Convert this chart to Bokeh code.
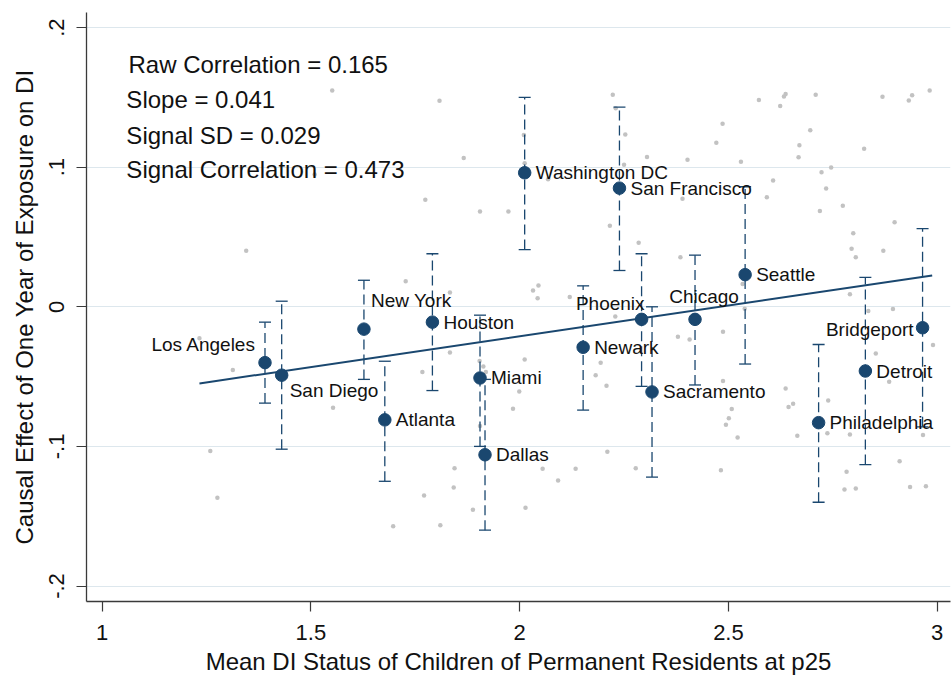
from bokeh.plotting import figure
from bokeh.models import Range1d, FixedTicker, ColumnDataSource, Label
from bokeh.embed import file_html
from bokeh.resources import INLINE
from bokeh.core.properties import value

# ---------------- data ----------------
cities = ["Los Angeles", "San Diego", "New York", "Houston", "Atlanta", "Miami",
          "Dallas", "Washington DC", "San Francisco", "Phoenix", "Newark",
          "Sacramento", "Chicago", "Seattle", "Bridgeport", "Detroit", "Philadelphia"]
mean_di = [1.390, 1.430, 1.627, 1.791, 1.677, 1.905, 1.917, 2.012, 2.239, 2.292,
           2.152, 2.317, 2.420, 2.540, 2.965, 2.828, 2.716]
effect = [-0.040, -0.049, -0.016, -0.011, -0.081, -0.051, -0.106, 0.096, 0.085,
          -0.009, -0.029, -0.061, -0.009, 0.023, -0.015, -0.046, -0.083]
ci_low = [-0.069, -0.102, -0.052, -0.060, -0.125, -0.100, -0.160, 0.041, 0.026,
          -0.057, -0.074, -0.122, -0.056, -0.041, -0.086, -0.113, -0.140]
ci_high = [-0.011, 0.004, 0.019, 0.038, -0.039, -0.006, -0.052, 0.150, 0.143,
           0.038, 0.015, 0.000, 0.037, 0.086, 0.056, 0.021, -0.027]

# other (unlabelled) CZs in the background
other_x = [1.551, 1.808, 1.866, 1.509, 1.774, 1.905, 1.973, 1.345, 1.727, 1.833,
           2.010, 2.012, 2.223, 2.230, 2.253, 2.250, 2.305, 2.402, 2.486, 2.471,
           2.573, 2.637, 2.633, 2.624, 2.709, 2.869, 2.940, 2.932, 2.982, 2.696,
           2.670, 2.668, 2.825, 2.530, 2.607, 2.723, 2.746, 2.734, 2.592, 2.390,
           2.719, 2.774, 2.898, 2.068, 2.216, 2.285, 2.385, 2.799, 2.795, 2.805,
           2.871, 2.045, 2.032, 2.043, 2.120, 2.534, 2.791, 2.229, 2.539, 2.835,
           2.894, 2.379, 2.407, 2.487, 1.233, 1.313, 1.259, 1.276, 1.553, 1.833,
           1.767, 1.844, 1.842, 1.771, 1.888, 1.697, 1.810, 1.904, 1.913, 2.012,
           1.999, 1.984, 1.905, 2.014, 1.919, 2.194, 2.182, 2.208, 2.210, 2.055,
           2.134, 2.092, 2.278, 2.487, 2.508, 2.501, 2.494, 2.522, 2.482, 2.637,
           2.655, 2.644, 2.665, 2.739, 2.737, 2.791, 2.853, 2.885, 2.990, 2.966,
           2.783, 2.778, 2.805, 2.910, 2.935, 2.973]
other_y = [0.1549, 0.1475, 0.1066, 0.0948, 0.0766, 0.0683, 0.0683, 0.0401, 0.0183, 0.0102,
           0.1230, 0.1028, 0.1518, 0.1423, 0.1234, 0.1018, 0.1073, 0.1054, 0.1311, 0.1175,
           0.1482, 0.1525, 0.1507, 0.1439, 0.1518, 0.1504, 0.1516, 0.1477, 0.1549, 0.1264,
           0.1157, 0.1071, 0.1132, 0.1039, 0.0905, 0.0963, 0.0997, 0.0847, 0.0785, 0.0773,
           0.0686, 0.0723, 0.0606, 0.0914, 0.0581, 0.0459, 0.0354, 0.0526, 0.0416, 0.0354,
           0.0402, 0.0152, 0.0117, 0.0062, 0.0070, 0.0163, 0.0090, -0.0069, -0.0014, -0.0030,
           -0.0015, -0.0215, -0.0235, -0.0178, -0.0226, -0.0453, -0.1033, -0.1368, -0.0724, -0.0328,
           -0.0467, -0.1156, -0.1295, -0.1352, -0.1454, -0.1572, -0.1565, -0.0388, -0.0428, -0.0378,
           -0.0607, -0.0731, -0.0854, -0.1440, -0.0467, -0.0400, -0.0490, -0.0565, -0.1038, -0.1160,
           -0.1160, -0.1245, -0.1156, -0.0531, -0.0732, -0.0799, -0.0845, -0.0936, -0.1171, -0.0585,
           -0.0695, -0.0717, -0.0924, -0.0672, -0.0906, -0.0915, -0.0335, -0.0537, -0.0274, -0.0919,
           -0.1181, -0.1309, -0.1302, -0.1106, -0.1291, -0.1286]

# fitted line end points
fit_x = [1.233, 2.988]
fit_y = [-0.0549, 0.0224]

stats_text = ["Raw Correlation = 0.165", "Slope = 0.041",
              "Signal SD = 0.029", "Signal Correlation = 0.473"]

x_ticks = [1, 1.5, 2, 2.5, 3]
x_tick_labels = ["1", "1.5", "2", "2.5", "3"]
y_ticks = [-0.2, -0.1, 0, 0.1, 0.2]
y_tick_labels = ["-.2", "-.1", "0", ".1", ".2"]

x_title = "Mean DI Status of Children of Permanent Residents at p25"
y_title = "Causal Effect of One Year of Exposure on DI"

# ---------------- style ----------------
NAVY = "#1a476f"
FONT = "Liberation Sans"

# label placement: (x_offset px, y_offset px, align)
label_pos = {
    "Los Angeles": (-9, -18, "right"),
    "San Diego": (8, 15, "left"),
    "New York": (7, -29, "left"),
    "Phoenix": (3, -16, "right"),
    "Chicago": (9, -23, "center"),
    "Bridgeport": (-9, 2, "right"),
}
default_pos = (11, 0, "left")

p = figure(width=952, height=677, output_backend="svg", toolbar_location=None,
           x_range=Range1d(0.9625, 3.0319), y_range=Range1d(-0.2111, 0.2108),
           min_border_left=86, min_border_right=2, min_border_top=12, min_border_bottom=74)
p.outline_line_color = None
p.background_fill_color = "white"
p.border_fill_color = "white"

# axes
for ax in (p.xaxis[0], p.yaxis[0]):
    ax.axis_line_color = "#3a3a3a"
    ax.axis_line_width = 1.3
    ax.major_tick_line_color = "#3a3a3a"
    ax.major_tick_line_width = 1.2
    ax.major_tick_out = 10
    ax.major_tick_in = 0
    ax.minor_tick_line_color = None
    ax.major_label_text_font = FONT
    ax.major_label_text_font_size = "22px"
    ax.major_label_text_color = "#111111"
    ax.axis_label_text_font = FONT
    ax.axis_label_text_font_size = "24px"
    ax.axis_label_text_font_style = "normal"
    ax.axis_label_text_color = "#111111"

p.xaxis.ticker = FixedTicker(ticks=x_ticks)
p.xaxis.major_label_overrides = dict(zip(x_ticks, x_tick_labels))
p.xaxis.axis_label = x_title
p.xaxis.major_label_standoff = 13
p.xaxis.axis_label_standoff = 5

p.yaxis.ticker = FixedTicker(ticks=y_ticks)
p.yaxis.major_label_overrides = dict(zip(y_ticks, y_tick_labels))
p.yaxis.major_label_orientation = "parallel"
p.yaxis.axis_label = y_title
p.yaxis.major_label_standoff = 12
p.yaxis.axis_label_standoff = 9

p.xgrid.visible = False
p.ygrid.ticker = FixedTicker(ticks=y_ticks)
p.ygrid.grid_line_color = "#dde7ed"
p.ygrid.grid_line_width = 1.2

# background points
p.scatter(other_x, other_y, size=4.5, fill_color="#c2c2c2", line_color=None)

# fit line
p.line(fit_x, fit_y, line_color=NAVY, line_width=2)

# error bars
src = ColumnDataSource(dict(x=mean_di, y=effect, lo=ci_low, hi=ci_high, name=cities))
p.segment(x0="x", y0="lo", x1="x", y1="hi", source=src, line_color=NAVY,
          line_width=1.3, line_dash="10 5")
p.scatter(x="x", y="lo", source=src, marker="dash", size=12, line_color=NAVY, line_width=1.3)
p.scatter(x="x", y="hi", source=src, marker="dash", size=12, line_color=NAVY, line_width=1.3)

# city points
p.scatter(x="x", y="y", source=src, size=12.5, fill_color=NAVY, line_color=NAVY)

# city labels
for c, xv, yv in zip(cities, mean_di, effect):
    xo, yo, al = label_pos.get(c, default_pos)
    p.text(x=[xv], y=[yv], text=[c], x_offset=xo, y_offset=yo,
           text_align=al, text_baseline="middle", text_font=value(FONT),
           text_font_size="19px", text_color="#111111")

# statistics box
stat_pos = [(1.063, 0.1732), (1.058, 0.1485), (1.058, 0.1230), (1.058, 0.0980)]
for t, (lx, ly) in zip(stats_text, stat_pos):
    p.add_layout(Label(x=lx, y=ly, text=t, text_font=FONT, text_font_size="24px",
                       text_baseline="middle", text_color="#111111"))

open("out.html", "w").write(file_html(p, INLINE))
